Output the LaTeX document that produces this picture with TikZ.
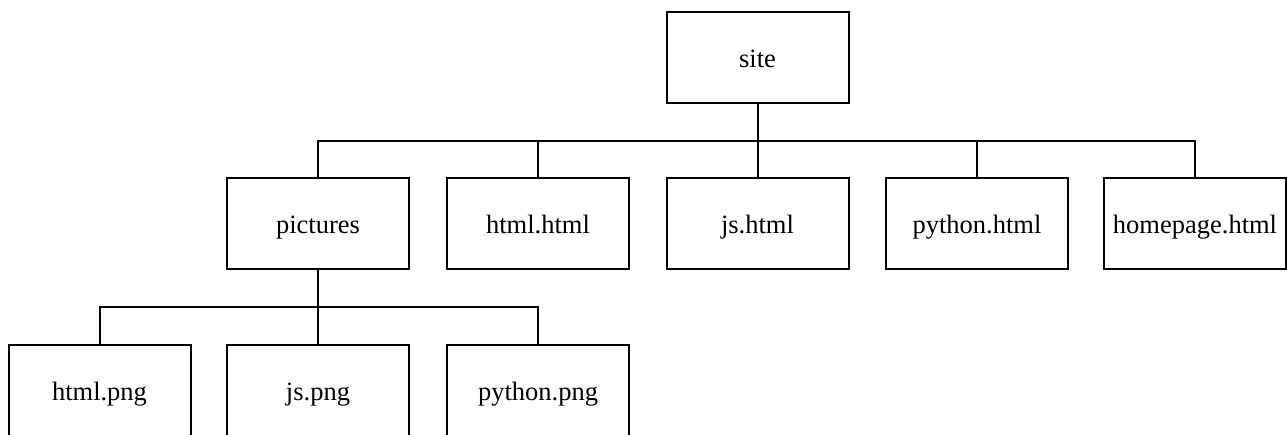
\documentclass[tikz,border=0pt]{standalone}
\usepackage{fontspec}
\setmainfont{Liberation Serif}
\begin{document}
\begin{tikzpicture}[x=1pt,y=-1pt,
  box/.style={draw, line width=2pt, minimum width=182pt, minimum height=91pt, inner sep=0pt, text height=26pt, text depth=6pt, font=\fontsize{26.5}{30}\selectfont},
  link/.style={line width=2pt}]
\useasboundingbox (0,0) rectangle (1287,434);
\begin{scope}
\clip (0,0) rectangle (1287,434);
\node[box] (site) at (757.5,57) {site};
\node[box] (pictures) at (318,223.5) {pictures};
\node[box] (htmlhtml) at (538,223.5) {html.html};
\node[box] (jshtml) at (757.5,223.5) {js.html};
\node[box] (pyhtml) at (977,223.5) {python.html};
\node[box] (homehtml) at (1195,223.5) {homepage.html};
\node[box] (htmlpng) at (99.5,390.5) {html.png};
\node[box] (jspng) at (318,390.5) {js.png};
\node[box] (pypng) at (538,390.5) {python.png};
\coordinate (bus1) at (757.5,141);
\coordinate (bus2) at (318,307);
\draw[link] (site.south) -- (bus1);
\foreach \c in {pictures,htmlhtml,jshtml,pyhtml,homehtml}
  \draw[link] (\c.north) |- (bus1);
\draw[link] (pictures.south) -- (bus2);
\foreach \c in {htmlpng,jspng,pypng}
  \draw[link] (\c.north) |- (bus2);
\end{scope}
\end{tikzpicture}
\end{document}
